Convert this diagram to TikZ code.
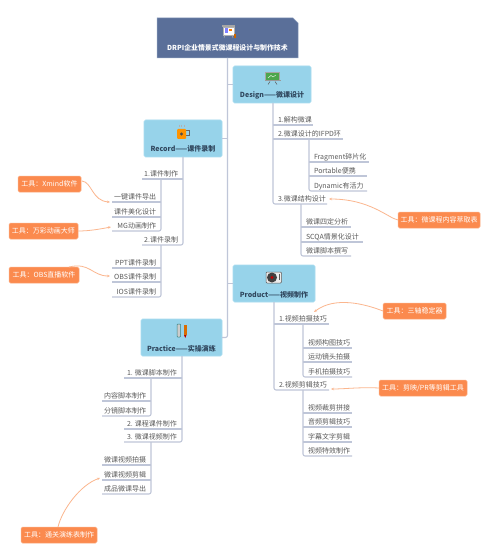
\documentclass[tikz,border=0pt]{standalone}
\usepackage{fontspec}
\setmainfont{Noto Sans CJK SC}
\usetikzlibrary{arrows.meta,backgrounds}
\definecolor{rootc}{HTML}{5A6F99}
\definecolor{rootb}{HTML}{8FA0C0}
\definecolor{boxc}{HTML}{97D3EA}
\definecolor{boxb}{HTML}{A9DCF0}
\definecolor{toolc}{HTML}{FB8A4E}
\definecolor{linec}{HTML}{BFC6D8}
\definecolor{curvec}{HTML}{FBB68E}
\definecolor{txt}{HTML}{5A5A5A}
\definecolor{ttl}{HTML}{30475E}
\tikzset{
  every node/.style={inner sep=0pt,outer sep=0pt,font=\fontsize{7}{8}\selectfont},
  topicnode/.style={text=txt,anchor=south west,text height=9pt,text depth=2.5pt},
  rootnode/.style={text=white,font=\fontsize{6.9}{8}\bfseries\selectfont,anchor=north west,minimum width=141pt,text height=33pt,text depth=7pt,align=center},
  mainnode/.style={fill=boxc,draw=boxb,line width=.6pt,rounded corners=1.5pt,text=ttl,font=\fontsize{7}{8}\bfseries\selectfont,anchor=north west,text height=32pt,text depth=5pt,align=center},
  toolnode/.style={fill=toolc,draw=toolc!70!white,line width=.5pt,rounded corners=1.5pt,text=white,anchor=north west,minimum height=16pt},
  ln/.style={draw=linec,line width=1.1pt,rounded corners=2pt},
  curveln/.style={draw=curvec,line width=.8pt,-{Stealth[length=3pt,width=2.5pt]}}
}
% right-growing topic: name, x1, x2, underline y, text
\newcommand{\topicR}[5]{\node[topicnode] (#1) at (#2,#4) {\hbox to \dimexpr#3pt-#2pt\relax{\hskip5pt #5\hss}};}
% left-growing topic
\newcommand{\topicL}[5]{\node[topicnode] (#1) at (#2,#4) {\hbox to \dimexpr#3pt-#2pt\relax{\hss #5\hskip5pt}};}
\begin{document}
\begin{tikzpicture}[x=1pt,y=-1pt]
\useasboundingbox (0,0) rectangle (502,548);

% main nodes
\node[rootnode] (root) at (157,18) {DRPI企业情景式微课程设计与制作技术};
\begin{scope}[on background layer]
\fill[white] (0,0) rectangle (502,548);
\fill[rootc,draw=rootb,line width=.5pt] (root.north west) -- ([xshift=-5pt]root.north east) -- ([yshift=-5pt]root.north east) -- (root.south east) -- (root.south west) -- cycle;
\end{scope}
\node[mainnode,minimum width=78pt] (design) at (233,66) {Design——微课设计};
\node[mainnode,minimum width=78pt] (record) at (144,120) {Record——课件录制};
\node[mainnode,minimum width=82pt] (product) at (233,265) {Product——视频制作};
\node[mainnode,minimum width=81pt] (practice) at (141,319) {Practice——实操演练};

% topics: design
\topicR{da}{273}{313}{125}{1.解构微课}
\topicR{db}{273}{343}{139}{2.微课设计的IFPD环}
\topicR{dc}{273}{327}{204}{3.微课结构设计}
\topicR{dba}{309}{369}{162}{Fragment碎片化}
\topicR{dbb}{309}{367}{176}{Portable便携}
\topicR{dbc}{309}{367}{191}{Dynamic有活力}
\topicR{dca}{301}{351}{227}{微课四定分析}
\topicR{dcb}{301}{363}{242}{SCQA情景化设计}
\topicR{dcc}{301}{351}{256}{微课脚本撰写}
% topics: product
\topicR{pa}{274}{329}{324}{1.视频拍摄技巧}
\topicR{pb}{274}{329}{390}{2.视频剪辑技巧}
\topicR{paa}{303}{352}{348}{视频构图技巧}
\topicR{pab}{303}{352}{362}{运动镜头拍摄}
\topicR{pac}{303}{352}{377}{手机拍摄技巧}
\topicR{pba}{303}{352}{413}{视频裁剪拼接}
\topicR{pbb}{303}{352}{427}{音频剪辑技巧}
\topicR{pbc}{303}{352}{442}{字幕文字剪辑}
\topicR{pbd}{303}{352}{456}{视频特效制作}
% topics: record
\topicL{ra}{142}{183}{179}{1.课件制作}
\topicL{rb}{142}{183}{245}{2.课件录制}
\topicL{raa}{112}{161}{202}{一键课件导出}
\topicL{rab}{112}{161}{217}{课件美化设计}
\topicL{rac}{112}{161}{231}{MG动画制作}
\topicL{rba}{112}{161}{268}{PPT课件录制}
\topicL{rbb}{112}{161}{282}{OBS课件录制}
\topicL{rbc}{112}{161}{297}{IOS课件录制}
% topics: practice
\topicL{ca}{124}{182}{378}{1. 微课脚本制作}
\topicL{cb}{124}{182}{429}{2. 课程课件制作}
\topicL{cc}{124}{182}{442}{3. 微课视频制作}
\topicL{caa}{102}{151}{401}{内容脚本制作}
\topicL{cab}{102}{151}{416}{分镜脚本制作}
\topicL{cca}{102}{151}{465}{微课视频拍摄}
\topicL{ccb}{102}{151}{480}{微课视频剪辑}
\topicL{ccc}{102}{151}{494}{成品微课导出}

% tools
\node[toolnode,minimum width=63pt] (tx) at (18,176) {工具：Xmind软件};
\node[toolnode,minimum width=69pt] (tw) at (9,223) {工具：万彩动画大师};
\node[toolnode,minimum width=70pt] (to) at (9,267) {工具：OBS直播软件};
\node[toolnode,minimum width=82pt] (te) at (398,212) {工具：微课程内容萃取表};
\node[toolnode,minimum width=63pt] (ts) at (383,303) {工具：三轴稳定器};
\node[toolnode,minimum width=88pt] (tj) at (379,380) {工具：剪映/PR等剪辑工具};
\node[toolnode,minimum width=76pt] (tt) at (21,527) {工具：通关演练表制作};

% trunk
\draw[ln] (root.south) -- (root.south |- practice.east) -- (practice.east);
\draw[ln] (root.south |- design.west) -- (design.west);
\draw[ln] (root.south |- record.east) -- (record.east);
\draw[ln] (root.south |- product.west) -- (product.west);

% design connectors
\draw[ln] (design.south -| dc.south west) -- (dc.south west) -- (dc.south east);
\draw[ln] (da.south west) -- (da.south east);
\draw[ln] (db.south west) -- (db.south east);
\draw[ln] (db.south -| dbc.south west) -- (dbc.south west) -- (dbc.south east);
\draw[ln] (dba.south west) -- (dba.south east);
\draw[ln] (dbb.south west) -- (dbb.south east);
\draw[ln] (dc.south -| dcc.south west) -- (dcc.south west) -- (dcc.south east);
\draw[ln] (dca.south west) -- (dca.south east);
\draw[ln] (dcb.south west) -- (dcb.south east);
% product connectors
\draw[ln] (product.south -| pb.south west) -- (pb.south west) -- (pb.south east);
\draw[ln] (pa.south west) -- (pa.south east);
\draw[ln] (pa.south -| pac.south west) -- (pac.south west) -- (pac.south east);
\draw[ln] (paa.south west) -- (paa.south east);
\draw[ln] (pab.south west) -- (pab.south east);
\draw[ln] (pb.south -| pbd.south west) -- (pbd.south west) -- (pbd.south east);
\draw[ln] (pba.south west) -- (pba.south east);
\draw[ln] (pbb.south west) -- (pbb.south east);
\draw[ln] (pbc.south west) -- (pbc.south east);
% record connectors
\draw[ln] (record.south -| rb.south east) -- (rb.south east) -- (rb.south west);
\draw[ln] (ra.south east) -- (ra.south west);
\draw[ln] (ra.south -| rac.south east) -- (rac.south east) -- (rac.south west);
\draw[ln] (raa.south east) -- (raa.south west);
\draw[ln] (rab.south east) -- (rab.south west);
\draw[ln] (rb.south -| rbc.south east) -- (rbc.south east) -- (rbc.south west);
\draw[ln] (rba.south east) -- (rba.south west);
\draw[ln] (rbb.south east) -- (rbb.south west);
% practice connectors
\draw[ln] (practice.south -| cc.south east) -- (cc.south east) -- (cc.south west);
\draw[ln] (ca.south east) -- (ca.south west);
\draw[ln] (cb.south east) -- (cb.south west);
\draw[ln] (ca.south -| cab.south east) -- (cab.south east) -- (cab.south west);
\draw[ln] (caa.south east) -- (caa.south west);
\draw[ln] (cc.south -| ccc.south east) -- (ccc.south east) -- (ccc.south west);
\draw[ln] (cca.south east) -- (cca.south west);
\draw[ln] (ccb.south east) -- (ccb.south west);

% tool curves
\draw[curveln] ([xshift=1pt,yshift=3pt]tx.east) .. controls (92,182) and (92,201) .. ([xshift=-2pt]raa.south west);
\draw[curveln] (tw.east) .. controls (90,231) and (100,229) .. ([xshift=-1pt,yshift=4pt]rac.south west);
\draw[curveln] ([xshift=-10pt]to.north east) .. controls (90,262) and (92,276) .. ([xshift=-2pt,yshift=6pt]rbb.south west);
\draw[curveln] (te.west) .. controls (388,218) and (370,199) .. ([xshift=2pt,yshift=5pt]dc.south east);
\draw[curveln] (ts.west) .. controls (365,304) and (335,296) .. ([xshift=-15pt,yshift=12pt]pa.south east);
\draw[curveln] (tj.west) .. controls (360,387) and (345,389) .. ([xshift=2pt,yshift=1pt]pb.south east);
\draw[curveln] ([xshift=-1pt]tt.north) .. controls (62,510) and (80,485) .. ([xshift=-2pt,yshift=2pt]ccb.south west);

% icons
% root: presentation board
\fill[gray!70] (222,25.5) rectangle (235,27);
\fill[white,draw=gray!60,line width=.4pt] (223,27) rectangle (234,35);
\fill[blue!50] (224.5,28.5) rectangle (228,33);
\fill[orange] (229,29) rectangle (232,31);
\draw[gray!70,line width=.5pt] (225,35) -- (224,38) (232,35) -- (233,38);
\fill[orange!80!black] (234,34) rectangle (235.5,38);
% design: green chalkboard
\fill[gray!70] (265,72) rectangle (280,81);
\fill[green!50!black!70] (266,73) rectangle (279,80);
\draw[white,line width=.4pt] (268,78) -- (271,75.5) -- (273,77) -- (276,75);
\fill[gray!80] (264.5,80.5) rectangle (280.5,81.5);
\draw[gray!70!black,line width=.5pt] (270,81.5) -- (268,84.5) (275,81.5) -- (277,84.5);
% record: mug
\draw[gray!80!black,line width=.5pt] (183.5,130) rectangle (189,135);
\fill[orange!85!yellow,rounded corners=1pt] (177,129) rectangle (186,139);
\fill[black!70] (181.5,134) circle (1.7pt);
\draw[gray!60,line width=.4pt] (179,125) -- (179,127.5) (181.5,125) -- (181.5,127.5) (184,125) -- (184,127.5);
% product: record player
\fill[gray!15,draw=gray!70!black,line width=.5pt,rounded corners=1pt] (266,272) rectangle (281.5,283);
\fill[black!75] (272,277.5) circle (5pt);
\fill[red!75!black] (272,277.5) circle (1.6pt);
\draw[gray!70!black,line width=.5pt] (279,273.5) -- (279,280);
% practice: ruler and pencil
\fill[gray!40,draw=teal!60!gray,line width=.5pt,rounded corners=.8pt] (177,324) rectangle (180.5,337);
\fill[orange!85!black] (184,324.5) rectangle (186.5,335);
\fill[red!70!black] (184,335) -- (186.5,335) -- (185.25,338) -- cycle;
\end{tikzpicture}
\end{document}
